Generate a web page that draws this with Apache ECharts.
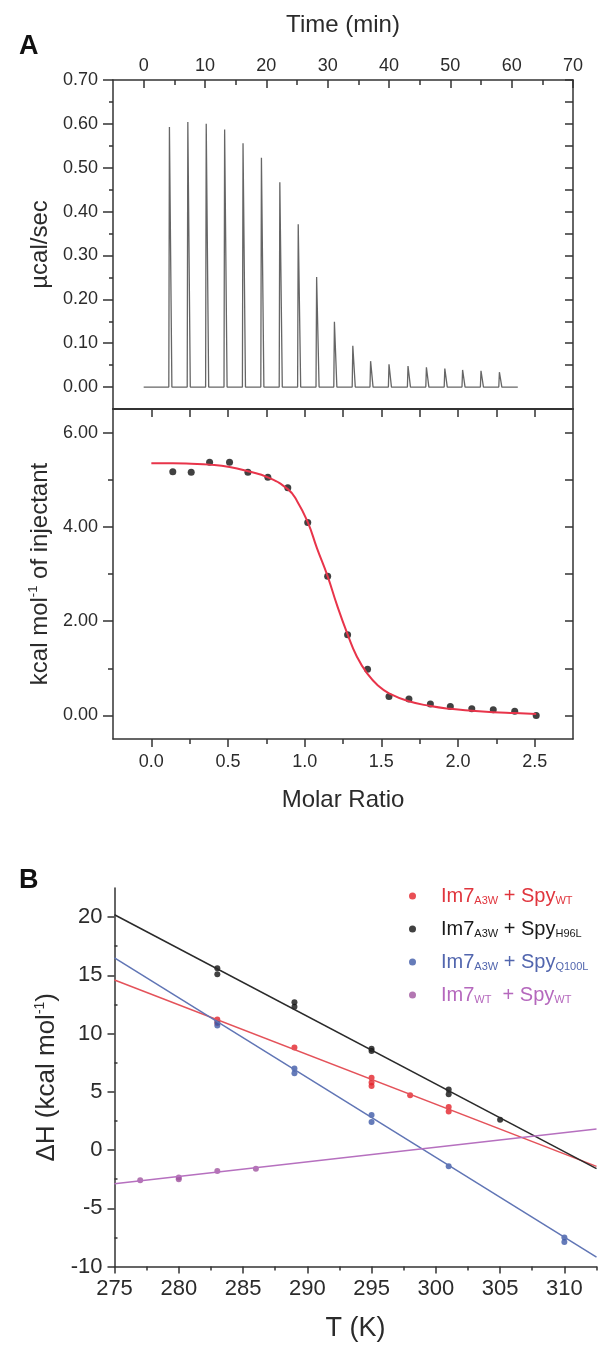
<!DOCTYPE html>
<html><head><meta charset="utf-8">
<script src="https://cdn.jsdelivr.net/npm/echarts@6/dist/echarts.min.js"></script>
<style>html,body{margin:0;padding:0;background:#fff}#c{width:610px;height:1345px}</style>
</head><body><div id="c"></div>
<script>
// ---------- Panel A (top): raw ITC thermogram ----------
const injectionTimes = [4.2, 7.2, 10.2, 13.2, 16.2, 19.2, 22.2, 25.2, 28.2, 31.1, 34.1, 37.0, 40.0, 43.1, 46.1, 49.1, 52.0, 55.0, 58.0];
const peakHeights = [0.593, 0.604, 0.600, 0.587, 0.556, 0.523, 0.467, 0.371, 0.251, 0.149, 0.094, 0.059, 0.052, 0.048, 0.045, 0.042, 0.039, 0.037, 0.034];
const baselineRange = [0, 61];
const timeLabels = [0, 10, 20, 30, 40, 50, 60, 70];
const timeMinor = [5, 15, 25, 35, 45, 55, 65];
const powerLabels = [0, 0.1, 0.2, 0.3, 0.4, 0.5, 0.6, 0.7];
const powerMinor = [0.05, 0.15, 0.25, 0.35, 0.45, 0.55, 0.65];

// ---------- Panel A (bottom): integrated heats ----------
const molarRatio = [0.14, 0.26, 0.38, 0.51, 0.63, 0.76, 0.89, 1.02, 1.15, 1.28, 1.41, 1.55, 1.68, 1.82, 1.95, 2.09, 2.23, 2.37, 2.51];
const heatPerMol = [5.17, 5.16, 5.37, 5.37, 5.16, 5.05, 4.83, 4.09, 2.95, 1.71, 0.98, 0.40, 0.35, 0.24, 0.19, 0.14, 0.12, 0.09, 0.00];
const fitRatio = [0.0, 0.14, 0.26, 0.38, 0.51, 0.63, 0.76, 0.89, 0.95, 1.02, 1.08, 1.15, 1.21, 1.28, 1.34, 1.41, 1.48, 1.55, 1.68, 1.82, 1.95, 2.09, 2.23, 2.37, 2.51];
const fitHeat = [5.35, 5.35, 5.34, 5.32, 5.27, 5.18, 5.05, 4.80, 4.55, 4.10, 3.55, 2.95, 2.35, 1.72, 1.25, 0.88, 0.63, 0.47, 0.30, 0.20, 0.14, 0.10, 0.07, 0.05, 0.03];
const ratioLabels = [0, 0.5, 1, 1.5, 2, 2.5];
const ratioMinor = [0.25, 0.75, 1.25, 1.75, 2.25];
const ratioTop = [0, 0.25, 0.5, 0.75, 1, 1.25, 1.5, 1.75, 2, 2.25, 2.5];
const heatLabels = [0, 2, 4, 6];
const heatMinor = [1, 3, 5];
const heatRight = [0, 1, 2, 3, 4, 5, 6];

// ---------- Panel B: ΔH vs T ----------
const redT = [283, 283, 289, 295, 295, 295, 298, 301, 301];
const redH = [11.2, 10.9, 8.8, 6.2, 5.8, 5.5, 4.7, 3.7, 3.3];
const blackT = [283, 283, 289, 289, 295, 295, 301, 301, 305];
const blackH = [15.6, 15.1, 12.7, 12.3, 8.7, 8.5, 5.2, 4.8, 2.6];
const blueT = [283, 283, 289, 289, 295, 295, 301, 310, 310];
const blueH = [11.0, 10.7, 7.0, 6.6, 3.0, 2.4, -1.4, -7.5, -7.9];
const purpleT = [277, 280, 280, 283, 286];
const purpleH = [-2.6, -2.35, -2.5, -1.8, -1.6];
const fitT = [275, 312.5];
const redFit = [14.6, -1.4];
const blackFit = [20.2, -1.6];
const blueFit = [16.5, -9.2];
const purpleFit = [-2.9, 1.8];
const tLabels = [275, 280, 285, 290, 295, 300, 305, 310];
const tMinor = [277.5, 282.5, 287.5, 292.5, 297.5, 302.5, 307.5, 312.5];
const dHLabels = [-10, -5, 0, 5, 10, 15, 20];
const dHMinor = [-7.5, -2.5, 2.5, 7.5, 12.5, 17.5];

const seriesNames = ['Im7A3W + SpyWT', 'Im7A3W + SpyH96L', 'Im7A3W + SpyQ100L', 'Im7WT + SpyWT'];
const legendRich = {
  'Im7A3W + SpyWT': '{g| }{m|Im7}{s|A3W}{m| + Spy}{s|WT}',
  'Im7A3W + SpyH96L': '{g| }{m|Im7}{s|A3W}{m| + Spy}{s|H96L}',
  'Im7A3W + SpyQ100L': '{g| }{m|Im7}{s|A3W}{m| + Spy}{s|Q100L}',
  'Im7WT + SpyWT': '{g| }{m|Im7}{s|WT}{m|  + Spy}{s|WT}'
};

const FONT = '"Liberation Sans", Arial, Helvetica, sans-serif';
const AX = '#333';
const TXT = '#2b2b2b';
const thermo = [[baselineRange[0], 0]];
injectionTimes.forEach((t, i) => { thermo.push([t - 0.1, 0], [t, peakHeights[i]], [t + 0.4, 0]); });
thermo.push([baselineRange[1], 0]);
const pairs = (xs, ys) => xs.map((x, i) => [x, ys[i]]);

function axisBase(extra) {
  return Object.assign({
    type: 'value', splitLine: { show: false },
    axisLine: { show: true, onZero: false, lineStyle: { color: AX, width: 1.5 } },
    axisTick: { show: false },
    axisLabel: { show: false },
  }, extra);
}
function tickOnly(grid, pos, min, max, vals, inside, len) {
  return axisBase({ gridIndex: grid, position: pos, min: min, max: max,
    axisLine: { show: false, onZero: false },
    axisTick: { show: true, inside: inside, length: len, customValues: vals, lineStyle: { color: AX, width: 1.5 } } });
}

const chart = echarts.init(document.getElementById('c'), null, { renderer: 'canvas' });
chart.setOption({
  animation: false,
  backgroundColor: '#fff',
  textStyle: { fontFamily: FONT },
  title: [
    { text: 'A', left: 14, top: 28, textStyle: { fontSize: 27, fontWeight: 'bold', color: '#111', fontFamily: FONT } },
    { text: 'B', left: 14, top: 862, textStyle: { fontSize: 27, fontWeight: 'bold', color: '#111', fontFamily: FONT } }
  ],
  grid: [
    { left: 113, top: 80, width: 460, height: 329 },
    { left: 113, top: 409, width: 460, height: 330 },
    { left: 114.5, top: 888, width: 482, height: 378.5 }
  ],
  xAxis: [
    axisBase({ gridIndex: 0, position: 'top', min: -5, max: 70,
      axisTick: { show: true, inside: true, length: 8, customValues: timeLabels, lineStyle: { color: AX, width: 1.5 } },
      axisLabel: { show: true, customValues: timeLabels, fontSize: 18, color: TXT, margin: 5, fontFamily: FONT },
      name: 'Time (min)', nameLocation: 'middle', nameGap: 43,
      nameTextStyle: { fontSize: 24, color: TXT, fontFamily: FONT } }),
    tickOnly(0, 'top', -5, 70, timeMinor, true, 5),
    axisBase({ gridIndex: 1, position: 'bottom', min: -0.25, max: 2.75,
      axisTick: { show: true, inside: false, length: 8, customValues: ratioLabels, lineStyle: { color: AX, width: 1.5 } },
      axisLabel: { show: true, customValues: ratioLabels, fontSize: 18, color: TXT, margin: 14, fontFamily: FONT, formatter: v => v.toFixed(1) },
      name: 'Molar Ratio', nameLocation: 'middle', nameGap: 49,
      nameTextStyle: { fontSize: 24, color: TXT, fontFamily: FONT } }),
    tickOnly(1, 'bottom', -0.25, 2.75, ratioMinor, false, 5),
    axisBase({ gridIndex: 1, position: 'top', min: -0.25, max: 2.75,
      axisLine: { show: true, onZero: false, lineStyle: { color: AX, width: 2 } },
      axisTick: { show: true, inside: true, length: 8, customValues: ratioTop, lineStyle: { color: AX, width: 1.5 } } }),
    axisBase({ gridIndex: 2, position: 'bottom', min: 275, max: 312.5,
      axisTick: { show: true, inside: false, length: 7, customValues: tLabels, lineStyle: { color: AX, width: 1.5 } },
      axisLabel: { show: true, customValues: tLabels, fontSize: 22, color: TXT, margin: 11, fontFamily: FONT },
      name: 'T (K)', nameLocation: 'middle', nameGap: 49,
      nameTextStyle: { fontSize: 27, color: TXT, fontFamily: FONT } }),
    tickOnly(2, 'bottom', 275, 312.5, tMinor, false, 4)
  ],
  yAxis: [
    axisBase({ gridIndex: 0, position: 'left', min: -0.05, max: 0.7,
      axisTick: { show: true, inside: false, length: 10, customValues: powerLabels, lineStyle: { color: AX, width: 1.5 } },
      axisLabel: { show: true, customValues: powerLabels, fontSize: 18, color: TXT, margin: 15, fontFamily: FONT, formatter: v => v.toFixed(2) },
      name: 'µcal/sec', nameLocation: 'middle', nameGap: 58,
      nameTextStyle: { fontSize: 24, color: TXT, fontFamily: FONT } }),
    tickOnly(0, 'left', -0.05, 0.7, powerMinor, false, 4),
    axisBase({ gridIndex: 0, position: 'right', min: -0.05, max: 0.7,
      axisTick: { show: true, inside: true, length: 8, customValues: powerLabels.concat(powerMinor), lineStyle: { color: AX, width: 1.5 } } }),
    axisBase({ gridIndex: 1, position: 'left', min: -0.5, max: 6.5,
      axisTick: { show: true, inside: false, length: 10, customValues: heatLabels, lineStyle: { color: AX, width: 1.5 } },
      axisLabel: { show: true, customValues: heatLabels, fontSize: 18, color: TXT, margin: 15, fontFamily: FONT, formatter: v => v.toFixed(2) },
      name: '{a|kcal mol}{b|-1}{a| of injectant}', nameLocation: 'middle', nameGap: 60,
      nameTextStyle: { fontSize: 24, color: TXT, fontFamily: FONT,
        rich: { a: { fontSize: 24, lineHeight: 26, color: TXT, fontFamily: FONT }, b: { fontSize: 13, verticalAlign: 'top', color: TXT, fontFamily: FONT } } } }),
    tickOnly(1, 'left', -0.5, 6.5, heatMinor, false, 5),
    axisBase({ gridIndex: 1, position: 'right', min: -0.5, max: 6.5,
      axisTick: { show: true, inside: true, length: 8, customValues: heatRight, lineStyle: { color: AX, width: 1.5 } } }),
    axisBase({ gridIndex: 2, position: 'left', min: -10, max: 22.5,
      axisTick: { show: true, inside: false, length: 7, customValues: dHLabels, lineStyle: { color: AX, width: 1.5 } },
      axisLabel: { show: true, customValues: dHLabels, fontSize: 22, color: TXT, margin: 12, fontFamily: FONT },
      name: '{a|ΔH (kcal mol}{b|-1}{a|)}', nameLocation: 'middle', nameGap: 51,
      nameTextStyle: { fontSize: 26, color: TXT, fontFamily: FONT,
        rich: { a: { fontSize: 26, lineHeight: 28, color: TXT, fontFamily: FONT }, b: { fontSize: 14, verticalAlign: 'top', color: TXT, fontFamily: FONT } } } }),
    tickOnly(2, 'left', -10, 22.5, dHMinor, true, 3)
  ],
  legend: {
    orient: 'vertical', left: 404, top: 879, itemWidth: 7, itemHeight: 7, itemGap: 11, icon: 'circle',
    formatter: name => legendRich[name],
    textStyle: { fontFamily: FONT, rich: {
      g: { width: 20 },
      m: { fontSize: 20, lineHeight: 20, verticalAlign: 'top', fontFamily: FONT },
      s: { fontSize: 11, lineHeight: 11, padding: [11, 0, 0, 0], verticalAlign: 'bottom', fontFamily: FONT }
    } },
    data: [
      { name: seriesNames[0], textStyle: { color: '#e0353d' } },
      { name: seriesNames[1], textStyle: { color: '#1a1a1a' } },
      { name: seriesNames[2], textStyle: { color: '#5266ae' } },
      { name: seriesNames[3], textStyle: { color: '#b568bd' } }
    ]
  },
  series: [
    { type: 'line', xAxisIndex: 0, yAxisIndex: 0, data: thermo, showSymbol: false, symbol: 'none',
      lineStyle: { color: '#666', width: 1.3 } },
    { type: 'line', xAxisIndex: 2, yAxisIndex: 3, data: pairs(fitRatio, fitHeat), smooth: true, showSymbol: false, symbol: 'none',
      lineStyle: { color: '#e8344a', width: 2 } },
    { type: 'scatter', xAxisIndex: 2, yAxisIndex: 3, data: pairs(molarRatio, heatPerMol), symbolSize: 7,
      itemStyle: { color: '#111' } },
    { name: 'fitRed', type: 'line', xAxisIndex: 5, yAxisIndex: 6, data: pairs(fitT, redFit), showSymbol: false, symbol: 'none', lineStyle: { color: '#e4525a', width: 1.5 } },
    { name: 'fitBlack', type: 'line', xAxisIndex: 5, yAxisIndex: 6, data: pairs(fitT, blackFit), showSymbol: false, symbol: 'none', lineStyle: { color: '#2a2a2a', width: 1.5 } },
    { name: 'fitBlue', type: 'line', xAxisIndex: 5, yAxisIndex: 6, data: pairs(fitT, blueFit), showSymbol: false, symbol: 'none', lineStyle: { color: '#6075b5', width: 1.5 } },
    { name: 'fitPurple', type: 'line', xAxisIndex: 5, yAxisIndex: 6, data: pairs(fitT, purpleFit), showSymbol: false, symbol: 'none', lineStyle: { color: '#b670bf', width: 1.5 } },
    { name: seriesNames[0], type: 'scatter', xAxisIndex: 5, yAxisIndex: 6, data: pairs(redT, redH), symbolSize: 6, itemStyle: { color: '#e3232b' } },
    { name: seriesNames[1], type: 'scatter', xAxisIndex: 5, yAxisIndex: 6, data: pairs(blackT, blackH), symbolSize: 6, itemStyle: { color: '#111' } },
    { name: seriesNames[2], type: 'scatter', xAxisIndex: 5, yAxisIndex: 6, data: pairs(blueT, blueH), symbolSize: 6, itemStyle: { color: '#3e5aa8' } },
    { name: seriesNames[3], type: 'scatter', xAxisIndex: 5, yAxisIndex: 6, data: pairs(purpleT, purpleH), symbolSize: 6, itemStyle: { color: '#a0559f' } }
  ]
});
</script></body></html>
